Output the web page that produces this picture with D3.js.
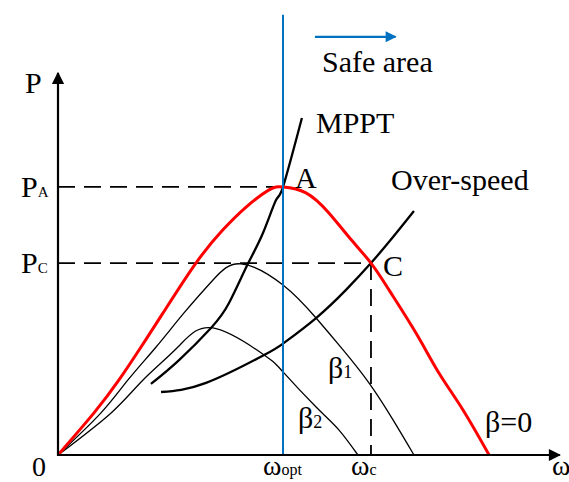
<!DOCTYPE html>
<html>
<head>
<meta charset="utf-8">
<script src="https://cdn.jsdelivr.net/npm/d3@7"></script>
<style>
  body { margin: 0; background: #fff; }
</style>
</head>
<body>
<div id="chart"></div>
<script>
// curves as [omega, power] pairs, omega_opt = 1, P_A = 1
const beta0 = [[0, 0], [0.16, 0.157], [0.271, 0.28], [0.369, 0.403], [0.467, 0.53], [0.613, 0.716],
  [0.733, 0.84], [0.836, 0.925], [0.938, 0.989], [1, 1], [1.102, 0.978], [1.204, 0.903],
  [1.293, 0.813], [1.391, 0.716], [1.471, 0.616], [1.591, 0.455], [1.693, 0.306], [1.8, 0.168],
  [1.916, 0]];
const beta1 = [[0, 0], [0.191, 0.157], [0.311, 0.28], [0.436, 0.403], [0.56, 0.53], [0.689, 0.653],
  [0.813, 0.713], [1.0, 0.634], [1.147, 0.511], [1.267, 0.392], [1.382, 0.269], [1.489, 0.131],
  [1.582, 0]];
const beta2 = [[0, 0], [0.236, 0.157], [0.378, 0.28], [0.533, 0.403], [0.689, 0.474],
  [0.916, 0.373], [1.0, 0.31], [1.147, 0.179], [1.249, 0.093], [1.333, 0]];
const mppt = [[0.413, 0.265], [0.538, 0.354], [0.68, 0.474], [0.76, 0.567], [0.844, 0.713],
  [0.911, 0.828], [0.969, 0.951], [1, 1], [1.084, 1.257]];
const overSpeed = [[0.458, 0.235], [0.658, 0.269], [0.916, 0.373], [1.004, 0.418], [1.147, 0.511],
  [1.28, 0.616], [1.391, 0.716], [1.489, 0.813], [1.582, 0.91]];

const pTicks = [1, 0.716];
const pTickSubs = ['A', 'C'];
const wTicks = [1, 1.391];
const wTickSubs = ['opt', 'c'];

const width = 569, height = 482;
const serif = '"Liberation Serif", "Times New Roman", Times, "DejaVu Serif", "Noto Serif", serif';

const x = d3.scaleLinear().domain([0, 2.24]).range([58, 562]);
const y = d3.scaleLinear().domain([0, 1.425]).range([455, 73]);

const svg = d3.select('#chart').append('svg')
  .attr('width', width)
  .attr('height', height)
  .style('font-family', serif);

const defs = svg.append('defs');
defs.append('marker')
  .attr('id', 'arrowBlack')
  .attr('viewBox', '0 0 10 10')
  .attr('refX', 9).attr('refY', 5)
  .attr('markerWidth', 7).attr('markerHeight', 5.5)
  .attr('markerUnits', 'strokeWidth')
  .attr('orient', 'auto')
  .append('path').attr('d', 'M0,0L10,5L0,10Z').attr('fill', '#000');
defs.append('marker')
  .attr('id', 'arrowBlue')
  .attr('viewBox', '0 0 10 10')
  .attr('refX', 9).attr('refY', 5)
  .attr('markerWidth', 6.5).attr('markerHeight', 5)
  .attr('markerUnits', 'strokeWidth')
  .attr('orient', 'auto')
  .append('path').attr('d', 'M0,0L10,5L0,10Z').attr('fill', '#0070c0');

// dashed guides
const dash = '17,9';
pTicks.forEach((p, i) => {
  svg.append('line')
    .attr('x1', x(0)).attr('x2', x(wTicks[i]))
    .attr('y1', y(p)).attr('y2', y(p))
    .attr('stroke', '#000').attr('stroke-width', 1.8)
    .attr('stroke-dasharray', dash);
});
svg.append('line')
  .attr('x1', x(wTicks[1])).attr('x2', x(wTicks[1]))
  .attr('y1', y(pTicks[1])).attr('y2', y(0))
  .attr('stroke', '#000').attr('stroke-width', 1.8)
  .attr('stroke-dasharray', dash);

const line = d3.line()
  .x((d) => x(d[0]))
  .y((d) => y(d[1]))
  .curve(d3.curveNatural);

function curve(data, color, w) {
  svg.append('path').datum(data)
    .attr('d', line).attr('fill', 'none')
    .attr('stroke', color).attr('stroke-width', w)
    .attr('stroke-linejoin', 'round');
}
curve(beta1, '#000', 1.3);
curve(beta2, '#000', 1.3);
curve(mppt, '#000', 2.3);
curve(overSpeed, '#000', 2.3);
curve(beta0, '#ff0000', 3);

// blue optimum line
svg.append('line')
  .attr('x1', x(1)).attr('x2', x(1))
  .attr('y1', y(1.642)).attr('y2', y(0))
  .attr('stroke', '#0070c0').attr('stroke-width', 2);

// safe area arrow
svg.append('line')
  .attr('x1', x(1.142)).attr('x2', x(1.5))
  .attr('y1', y(1.56)).attr('y2', y(1.56))
  .attr('stroke', '#0070c0').attr('stroke-width', 2.2)
  .attr('marker-end', 'url(#arrowBlue)');

// axes
svg.append('line')
  .attr('x1', x(0)).attr('x2', x(0))
  .attr('y1', y(0) + 1).attr('y2', y(1.425))
  .attr('stroke', '#000').attr('stroke-width', 2.2)
  .attr('marker-end', 'url(#arrowBlack)');
svg.append('line')
  .attr('x1', x(0) - 1).attr('x2', x(2.23))
  .attr('y1', y(0)).attr('y2', y(0))
  .attr('stroke', '#000').attr('stroke-width', 2.2)
  .attr('marker-end', 'url(#arrowBlack)');

// labels
function label(tx, ty, main, sub, size, subSize) {
  const t = svg.append('text')
    .attr('x', tx).attr('y', ty)
    .attr('font-family', serif)
    .attr('font-size', size)
    .attr('fill', '#000');
  t.append('tspan').text(main);
  if (sub) t.append('tspan').attr('font-size', subSize).text(sub);
  return t;
}

pTicks.forEach((p, i) => {
  label(x(0) - 37, y(p) + 10, 'P', pTickSubs[i], 30, 15);
});
wTicks.forEach((w, i) => {
  label(x(w) - 20, 475, 'ω', wTickSubs[i], 28, 16);
});
label(x(0) - 26, 476, '0', null, 28);
label(x(0) - 33, 93, 'P', null, 30);
label(552, 475, 'ω', null, 28);

label(x(1) + 12, y(1) + 1, 'A', null, 30);
label(x(wTicks[1]) + 12, y(pTicks[1]) + 13, 'C', null, 30);
label(316, 133, 'MPPT', null, 30);
label(391, 190, 'Over-speed', null, 30);
label(322, 72, 'Safe area', null, 30);
label(485, 432, 'β=0', null, 30);
label(328, 378, 'β', '1', 30, 18);
label(298, 428, 'β', '2', 30, 18);
</script>
</body>
</html>
